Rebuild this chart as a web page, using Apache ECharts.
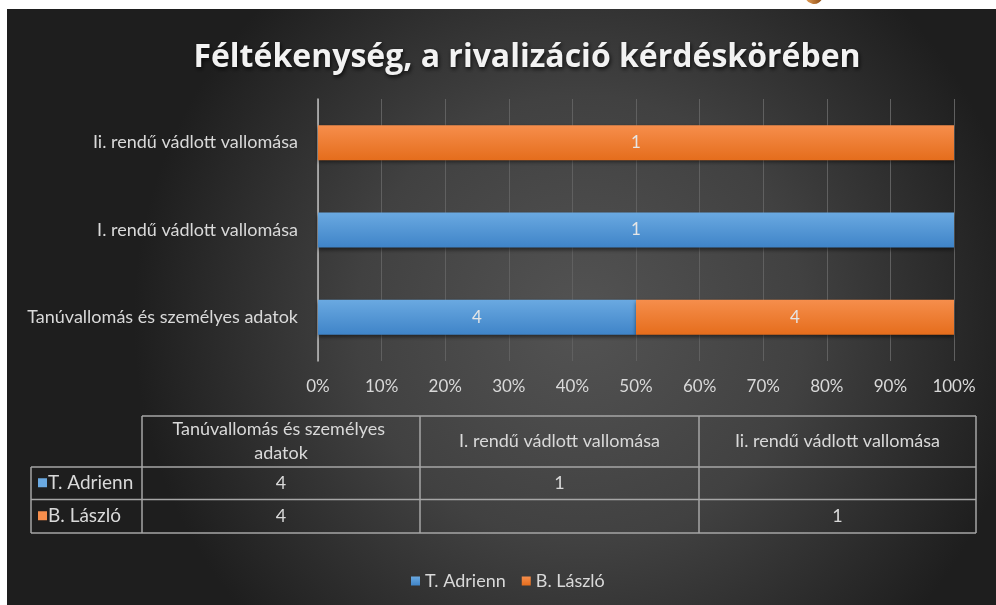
<!DOCTYPE html>
<html>
<head>
<meta charset="utf-8">
<script src="https://cdn.jsdelivr.net/npm/echarts@6/dist/echarts.min.js"></script>
<style>
    html, body { margin: 0; padding: 0; background: #fff; }
    #main { width: 996px; height: 605px; }
</style>
</head>
<body>
<div id="main"></div>
<script>
    // adatok
    var categories = ['Tanúvallomás és személyes adatok', 'I. rendű vádlott vallomása', 'Ii. rendű vádlott vallomása'];
    var seriesNames = ['T. Adrienn', 'B. László'];
    var adrienn = [4, 1, null];
    var laszlo = [4, null, 1];
    var tickLabels = ['0%', '10%', '20%', '30%', '40%', '50%', '60%', '70%', '80%', '90%', '100%'];

    var blue = ['#6aa9e1', '#3f84c8'];
    var orange = ['#f68e4c', '#e56d1c'];
    var textColor = '#d9d9d9';
    var font = 'Lato';

    var rawData = [adrienn, laszlo];
    var totals = categories.map(function (c, i) {
        return (adrienn[i] || 0) + (laszlo[i] || 0);
    });
    function toPct(arr) {
        return arr.map(function (v, i) {
            return v == null ? null : v / totals[i] * 100;
        });
    }

    function grad(c) {
        return new echarts.graphic.LinearGradient(0, 0, 0, 1, [
            {offset: 0, color: c[0]},
            {offset: 1, color: c[1]}
        ]);
    }

    // adattábla
    var colX = [142, 420, 699, 976];
    var rowY = [416, 467, 499.5, 533];
    var tableLeft = 31;
    var lineStyle = {stroke: '#a6a6a6', lineWidth: 1.5};
    var table = [];
    table.push({type: 'line', shape: {x1: colX[0], y1: rowY[0], x2: colX[3], y2: rowY[0]}, style: lineStyle});
    for (var r = 1; r < rowY.length; r++) {
        table.push({type: 'line', shape: {x1: tableLeft, y1: rowY[r], x2: colX[3], y2: rowY[r]}, style: lineStyle});
    }
    table.push({type: 'line', shape: {x1: tableLeft, y1: rowY[1], x2: tableLeft, y2: rowY[3]}, style: lineStyle});
    colX.forEach(function (x) {
        table.push({type: 'line', shape: {x1: x, y1: rowY[0], x2: x, y2: rowY[3]}, style: lineStyle});
    });
    categories.forEach(function (c, i) {
        var cx = (colX[i] + colX[i + 1]) / 2;
        table.push({
            type: 'text', x: cx, y: (rowY[0] + rowY[1]) / 2,
            style: {
                text: c, fill: textColor, font: '18px ' + font, align: 'center', verticalAlign: 'middle',
                width: colX[i + 1] - colX[i] - 24, overflow: 'break', lineHeight: 24
            }
        });
        rawData.forEach(function (arr, s) {
            if (arr[i] == null) return;
            table.push({
                type: 'text', x: cx, y: (rowY[s + 1] + rowY[s + 2]) / 2,
                style: {text: String(arr[i]), fill: textColor, font: '18px ' + font, align: 'center', verticalAlign: 'middle'}
            });
        });
    });
    seriesNames.forEach(function (n, s) {
        var cy = (rowY[s + 1] + rowY[s + 2]) / 2;
        table.push({type: 'rect', shape: {x: 38, y: cy - 5, width: 9, height: 9}, style: {fill: s == 0 ? blue[0] : orange[0]}});
        table.push({
            type: 'text', x: 48, y: cy,
            style: {text: n, fill: textColor, font: '19px ' + font, align: 'left', verticalAlign: 'middle'}
        });
    });

    var bg = [
        {
            type: 'rect', z: -10, silent: true,
            shape: {x: 7, y: 9, width: 989, height: 596},
            style: {
                fill: new echarts.graphic.RadialGradient(0.58, 0.52, 0.75, [
                    {offset: 0, color: '#535353'},
                    {offset: 0.5, color: '#414141'},
                    {offset: 1, color: '#1e1e1e'}
                ])
            }
        },
        {
            type: 'sector', z: -10, silent: true,
            shape: {cx: 814, cy: -5, r0: 0, r: 9, startAngle: 0.2, endAngle: Math.PI - 0.2},
            style: {
                fill: new echarts.graphic.LinearGradient(0, 0, 1, 0, [
                    {offset: 0, color: '#e8a25a'},
                    {offset: 1, color: '#8a4a12'}
                ])
            }
        }
    ];

    var myChart = echarts.init(document.getElementById('main'));

    var option = {
        backgroundColor: '#ffffff',
        animation: false,
        title: {
            text: 'Féltékenység, a rivalizáció kérdéskörében',
            left: 522,
            top: 37,
            textAlign: 'center',
            textStyle: {
                fontFamily: 'Open Sans',
                fontSize: 32,
                fontWeight: 'bold',
                color: '#f2f2f2',
                textShadowColor: 'rgba(0,0,0,0.8)',
                textShadowBlur: 4,
                textShadowOffsetX: 1,
                textShadowOffsetY: 2
            }
        },
        legend: {
            data: seriesNames,
            left: 406,
            top: 567,
            icon: 'rect',
            itemWidth: 9,
            itemHeight: 9,
            itemGap: 16,
            textStyle: {color: textColor, fontSize: 18, fontFamily: font}
        },
        grid: {
            left: 318,
            right: 42,
            top: 99,
            height: 262,
            containLabel: false
        },
        xAxis: {
            type: 'value',
            min: 0,
            max: 100,
            interval: 10,
            axisLine: {show: false},
            axisTick: {show: false},
            splitLine: {lineStyle: {color: '#606060', width: 1}},
            axisLabel: {
                color: textColor,
                fontSize: 17,
                fontFamily: font,
                margin: 17,
                formatter: function (v) { return tickLabels[Math.round(v / 10)]; }
            }
        },
        yAxis: {
            type: 'category',
            data: categories,
            axisLine: {lineStyle: {color: '#bfbfbf', width: 1.5}},
            axisTick: {show: false},
            axisLabel: {color: textColor, fontSize: 18, fontFamily: font, margin: 20}
        },
        series: [
            {
                name: seriesNames[0],
                type: 'bar',
                stack: 'total',
                barWidth: 35,
                data: toPct(adrienn),
                itemStyle: {color: grad(blue), shadowColor: 'rgba(0,0,0,0.5)', shadowBlur: 4, shadowOffsetY: 2},
                label: {
                    show: true,
                    color: '#e6e6e6',
                    fontSize: 17,
                    fontFamily: font,
                    formatter: function (p) { return adrienn[p.dataIndex]; }
                }
            },
            {
                name: seriesNames[1],
                type: 'bar',
                stack: 'total',
                barWidth: 35,
                data: toPct(laszlo),
                itemStyle: {color: grad(orange), shadowColor: 'rgba(0,0,0,0.5)', shadowBlur: 4, shadowOffsetY: 2},
                label: {
                    show: true,
                    color: '#e6e6e6',
                    fontSize: 17,
                    fontFamily: font,
                    formatter: function (p) { return laszlo[p.dataIndex]; }
                }
            }
        ],
        graphic: bg.concat(table)
    };

    myChart.setOption(option);
</script>
</body>
</html>
